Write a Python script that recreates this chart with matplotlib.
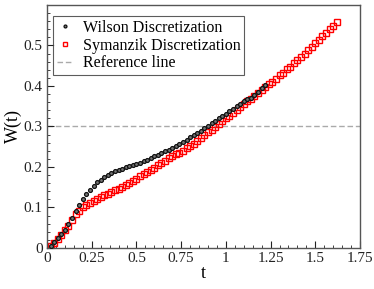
import numpy as np
import matplotlib
matplotlib.use("Agg")
import matplotlib.pyplot as plt
from matplotlib.ticker import MultipleLocator

plt.rcParams['font.family'] = ['Liberation Serif', 'DejaVu Serif']

# t grid (flow time), step 0.02
t_wilson = np.round(np.arange(0.02, 1.2201, 0.02), 2)
t_symanzik = np.round(np.arange(0.02, 1.6201, 0.02), 2)

w_wilson = [0.006, 0.014, 0.024, 0.034, 0.045, 0.060, 0.075, 0.092, 0.106, 0.120,
            0.133, 0.144, 0.154, 0.162, 0.169, 0.175, 0.180, 0.185, 0.189, 0.193,
            0.196, 0.199, 0.202, 0.205, 0.208, 0.211, 0.214, 0.218, 0.222, 0.226,
            0.230, 0.234, 0.239, 0.243, 0.248, 0.252, 0.257, 0.262, 0.267, 0.273,
            0.278, 0.284, 0.290, 0.296, 0.302, 0.308, 0.314, 0.320, 0.326, 0.332,
            0.338, 0.344, 0.350, 0.356, 0.362, 0.368, 0.371, 0.378, 0.386, 0.394,
            0.402]

w_symanzik = [0.006, 0.013, 0.022, 0.033, 0.044, 0.055, 0.069, 0.083, 0.092, 0.100,
              0.106, 0.111, 0.116, 0.121, 0.126, 0.130, 0.134, 0.138, 0.142, 0.146,
              0.151, 0.155, 0.160, 0.165, 0.171, 0.177, 0.182, 0.187, 0.192, 0.198,
              0.204, 0.210, 0.216, 0.221, 0.226, 0.231, 0.235, 0.240, 0.246, 0.252,
              0.258, 0.265, 0.272, 0.279, 0.286, 0.292, 0.299, 0.306, 0.313, 0.320,
              0.327, 0.334, 0.341, 0.348, 0.355, 0.362, 0.369, 0.376, 0.383, 0.390,
              0.397, 0.404, 0.411, 0.418, 0.426, 0.433, 0.441, 0.448, 0.456, 0.464,
              0.472, 0.480, 0.489, 0.497, 0.506, 0.514, 0.523, 0.532, 0.540, 0.549,
              0.558]

w_ref = 0.3

fig = plt.figure(figsize=(3.74, 2.89), dpi=100)
ax = fig.add_axes([0.1257, 0.1419, 0.8369, 0.8408])

ax.axhline(w_ref, color='#aaaaaa', ls='--', lw=1.0, dashes=(4, 2), label='Reference line', zorder=1)
ax.plot(t_symanzik, w_symanzik, 's', mfc='none', mec='red', ms=3.8, mew=1.0,
        label='Symanzik Discretization', zorder=2)
ax.plot(t_wilson, w_wilson, 'o', mfc='#777777', mec='#111111', ms=2.8, mew=0.9,
        label='Wilson Discretization', zorder=3)

ax.set_xlim(0, 1.75)
ax.set_ylim(0, 0.6)
ax.set_xticks([0, 0.25, 0.5, 0.75, 1, 1.25, 1.5, 1.75])
ax.set_xticklabels(['0', '0.25', '0.5', '0.75', '1', '1.25', '1.5', '1.75'])
ax.set_yticks([0, 0.1, 0.2, 0.3, 0.4, 0.5])
ax.set_yticklabels(['0', '0.1', '0.2', '0.3', '0.4', '0.5'])
ax.xaxis.set_minor_locator(MultipleLocator(0.05))
ax.yaxis.set_minor_locator(MultipleLocator(0.02))
ax.tick_params(which='both', direction='in', top=False, right=False, labelsize=11, colors='#222222')
ax.tick_params(which='major', length=5, width=0.8, pad=3)
ax.tick_params(which='minor', length=2.5, width=0.6)
for s in ax.spines.values():
    s.set_color('#555555')
    s.set_linewidth(1.0)

ax.set_xlabel('t', fontsize=13, labelpad=0)
ax.set_ylabel('W(t)', fontsize=13, labelpad=1)

handles, labels = ax.get_legend_handles_labels()
order = [2, 1, 0]
leg = ax.legend([handles[i] for i in order], [labels[i] for i in order],
                loc='upper left', bbox_to_anchor=(6 / 313, 1 - 11 / 243),
                fontsize=11.5, frameon=True, fancybox=False, markerscale=0.75,
                edgecolor='#333333', handlelength=1.0, handletextpad=0.6,
                borderpad=0.25, labelspacing=0.1, borderaxespad=0.0)
leg.get_frame().set_linewidth(0.8)

fig.savefig('out.png', dpi=100)
